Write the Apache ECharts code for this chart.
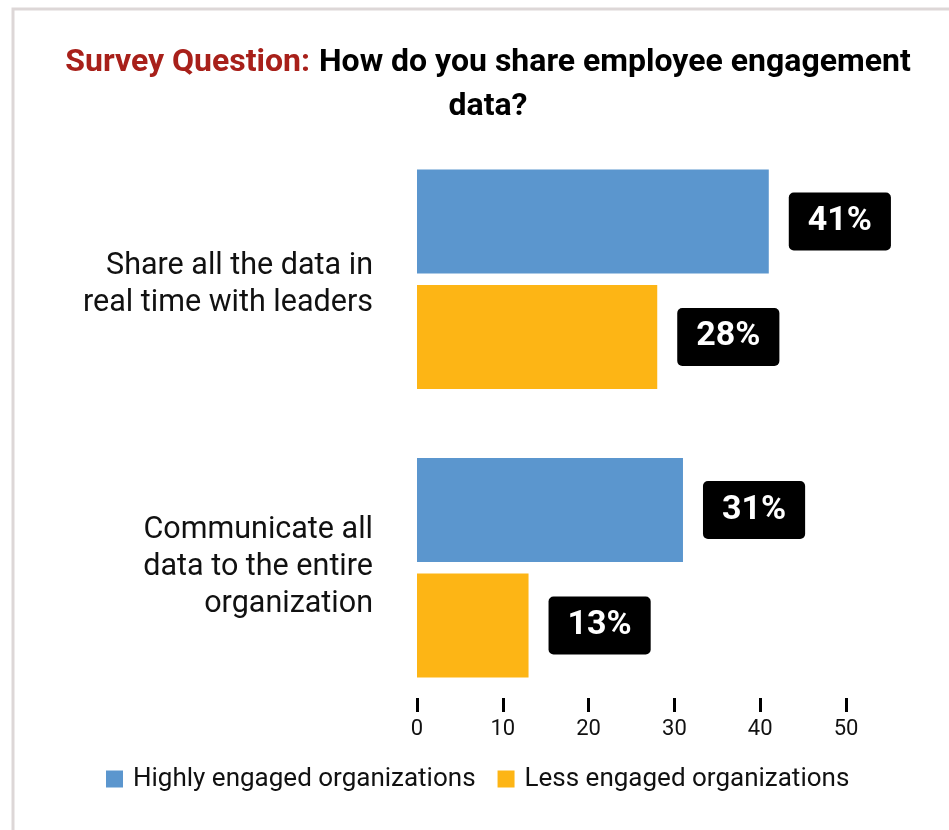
<!DOCTYPE html>
<html>
<head>
<meta charset="utf-8">
<script src="https://cdn.jsdelivr.net/npm/echarts@6/dist/echarts.min.js"></script>
<style>
  html, body { margin: 0; padding: 0; background: #fff; }
  #chart { width: 949px; height: 830px; }
</style>
</head>
<body>
<div id="chart"></div>
<script>
// Survey answers, share of organizations (%)
const categories = [
  'Share all the data in\nreal time with leaders',
  'Communicate all\ndata to the entire\norganization'
];
const seriesNames = ['Highly engaged organizations', 'Less engaged organizations'];
const highlyEngaged = [41, 31];
const lessEngaged = [28, 13];
const axisTicks = [0, 10, 20, 30, 40, 50];

const colors = ['#5B96CE', '#FDB515'];

const labelStyle = {
  show: true,
  position: 'right',
  distance: 20,
  formatter: '{c}%',
  color: '#fff',
  fontFamily: 'Roboto',
  fontWeight: 'bold',
  fontSize: 34,
  lineHeight: 34,
  backgroundColor: '#000',
  borderRadius: 5,
  padding: [12, 19, 12, 19]
};

// category labels: each line wrapped in a rich tag; the first label gets a small spacer line on top
function categoryLabel(value, index) {
  const lines = value.split('\n').map(function (l) { return '{c|' + l + '}'; });
  if (index === 0) lines.unshift('{s| }');
  return lines.join('\n');
}

const chart = echarts.init(document.getElementById('chart'));
chart.setOption({
  animation: false,
  backgroundColor: '#fff',
  graphic: [{
    type: 'rect',
    shape: { x: 13, y: 9, width: 1000, height: 1000 },
    style: { fill: 'none', stroke: '#DDD7D7', lineWidth: 3 },
    silent: true
  }],
  title: {
    text: '{r|Survey Question:}  {k|How do you share employee engagement}\n{k|data?}',
    left: 483,
    top: 36,
    textAlign: 'center',
    textStyle: {
      fontFamily: 'Roboto',
      lineHeight: 44,
      rich: {
        r: { color: '#A8201A', fontWeight: 'bold', fontSize: 32, fontFamily: 'Roboto', lineHeight: 44 },
        k: { color: '#000', fontWeight: 'bold', fontSize: 32, fontFamily: 'Roboto', lineHeight: 44 }
      }
    }
  },
  legend: {
    bottom: 33,
    left: 101,
    itemWidth: 17,
    itemHeight: 17,
    itemGap: 22,
    icon: 'rect',
    textStyle: { fontFamily: 'Roboto', fontSize: 26, color: '#111', padding: [0, 0, 0, 5] },
    data: seriesNames
  },
  grid: { left: 417, right: 103, top: 135, bottom: 118, containLabel: false },
  xAxis: {
    type: 'value',
    min: axisTicks[0],
    max: axisTicks[axisTicks.length - 1],
    interval: 10,
    axisLine: { show: false },
    axisTick: { show: true, inside: true, length: 14, lineStyle: { color: '#000', width: 3 } },
    splitLine: { show: false },
    axisLabel: { fontFamily: 'Roboto', fontSize: 22, color: '#111', margin: 6 }
  },
  yAxis: {
    type: 'category',
    inverse: true,
    data: categories,
    axisLine: { show: false },
    axisTick: { show: false },
    axisLabel: {
      margin: 44,
      align: 'right',
      formatter: categoryLabel,
      rich: {
        c: { fontFamily: 'Roboto', fontSize: 30.5, lineHeight: 37, color: '#111', align: 'right' },
        s: { fontSize: 1, lineHeight: 12 }
      }
    }
  },
  series: [
    {
      name: seriesNames[0],
      type: 'bar',
      data: highlyEngaged,
      barWidth: 104,
      barGap: '11%',
      itemStyle: { color: colors[0] },
      label: labelStyle
    },
    {
      name: seriesNames[1],
      type: 'bar',
      data: lessEngaged,
      barWidth: 104,
      barGap: '11%',
      itemStyle: { color: colors[1] },
      label: labelStyle
    }
  ]
});
</script>
</body>
</html>
